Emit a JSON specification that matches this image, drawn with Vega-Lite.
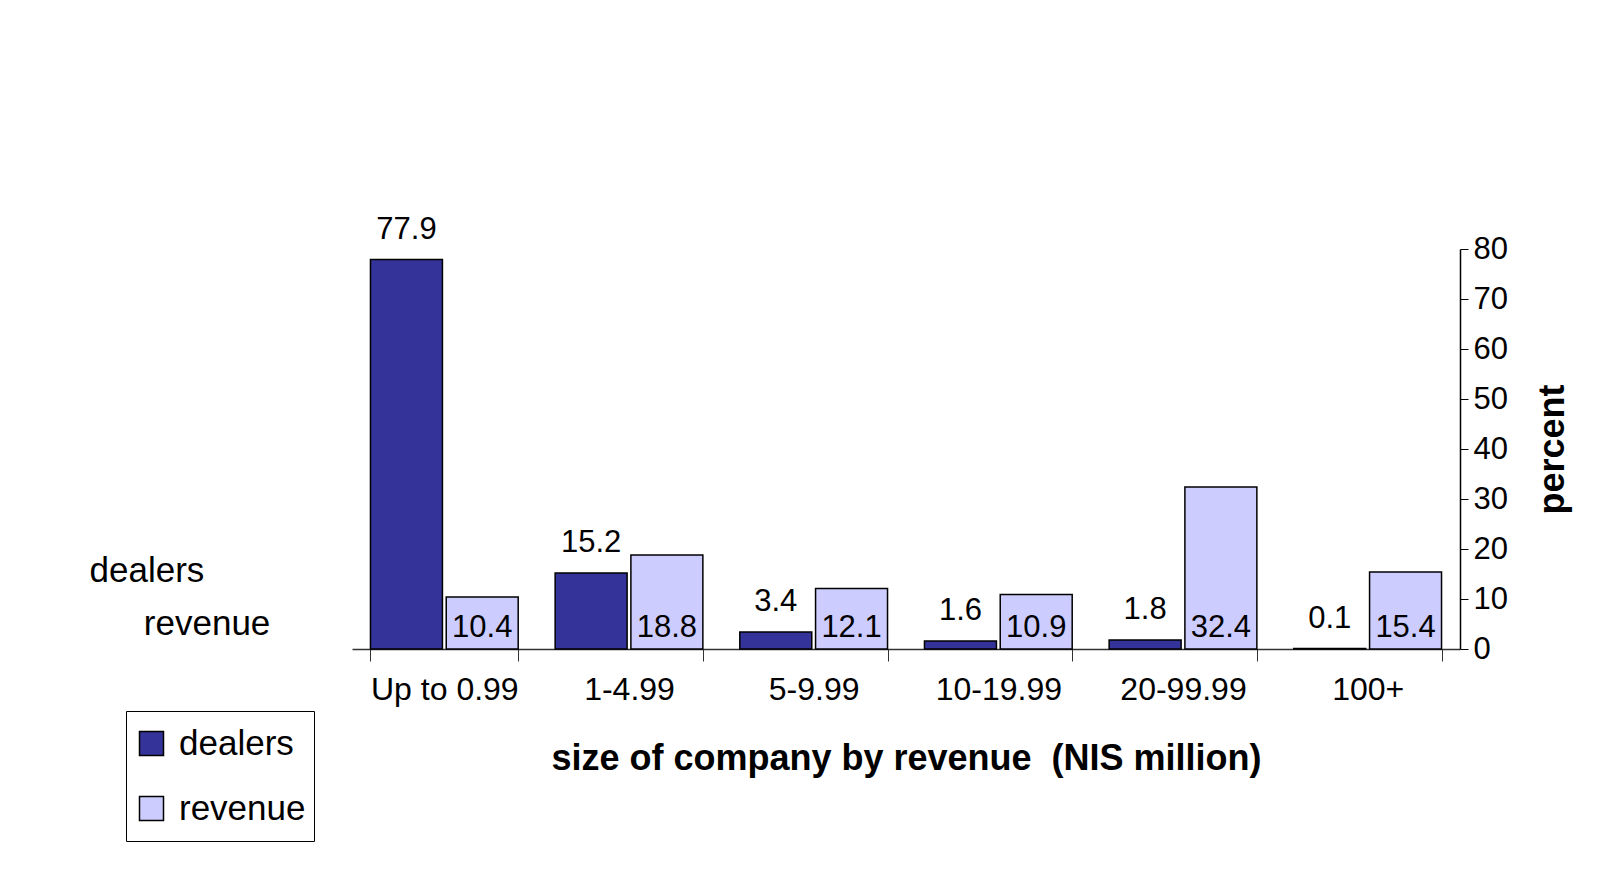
{
  "$schema": "https://vega.github.io/schema/vega-lite/v6.json",
  "width": 1108,
  "height": 400,
  "autosize": {"type": "none"},
  "padding": {"left": 352, "top": 249, "right": 139, "bottom": 232},
  "background": "white",
  "config": {
    "view": {"stroke": null},
    "font": "Liberation Sans",
    "text": {"font": "Liberation Sans", "fontSize": 31, "color": "black"}
  },
  "data": {
    "values": [
      {"category": "Up to 0.99", "series": "dealers", "value": 77.9},
      {"category": "Up to 0.99", "series": "revenue", "value": 10.4},
      {"category": "1-4.99", "series": "dealers", "value": 15.2},
      {"category": "1-4.99", "series": "revenue", "value": 18.8},
      {"category": "5-9.99", "series": "dealers", "value": 3.4},
      {"category": "5-9.99", "series": "revenue", "value": 12.1},
      {"category": "10-19.99", "series": "dealers", "value": 1.6},
      {"category": "10-19.99", "series": "revenue", "value": 10.9},
      {"category": "20-99.99", "series": "dealers", "value": 1.8},
      {"category": "20-99.99", "series": "revenue", "value": 32.4},
      {"category": "100+", "series": "dealers", "value": 0.1},
      {"category": "100+", "series": "revenue", "value": 15.4}
    ]
  },
  "layer": [
    {
      "mark": {"type": "bar", "stroke": "black", "strokeWidth": 1.5},
      "encoding": {
        "x": {
          "field": "category",
          "type": "nominal",
          "sort": ["Up to 0.99", "1-4.99", "5-9.99", "10-19.99", "20-99.99", "100+"],
          "scale": {"domain": ["Up to 0.99", "1-4.99", "5-9.99", "10-19.99", "20-99.99", "100+"], "paddingInner": 0.2, "paddingOuter": 0.1},
          "axis": {
            "orient": "bottom",
            "title": "size of company by revenue\u00a0\u00a0(NIS million)",
            "titleFontSize": 36,
            "titleFontWeight": "bold",
            "titleColor": "black",
            "titlePadding": 36,
            "labelAngle": 0,
            "labelFontSize": 32,
            "labelColor": "black",
            "labelPadding": 13,
            "tickBand": "extent",
            "tickSize": 12,
            "tickColor": "#333333",
            "domainColor": "#333333",
            "domainWidth": 1.5
          }
        },
        "xOffset": {
          "field": "series",
          "type": "nominal",
          "scale": {"domain": ["dealers", "revenue"], "paddingInner": 0.05}
        },
        "y": {
          "field": "value",
          "type": "quantitative",
          "scale": {"domain": [0, 80], "nice": false},
          "axis": {
            "orient": "right",
            "values": [0, 10, 20, 30, 40, 50, 60, 70, 80],
            "grid": false,
            "title": "percent",
            "titleAngle": 270,
            "titleFontSize": 36,
            "titleFontWeight": "bold",
            "titleColor": "black",
            "titlePadding": 64,
            "labelFontSize": 31,
            "labelColor": "black",
            "labelPadding": 5,
            "tickSize": 8,
            "tickColor": "black",
            "domainColor": "black",
            "domainWidth": 1.5
          }
        },
        "color": {
          "field": "series",
          "type": "nominal",
          "scale": {"domain": ["dealers", "revenue"], "range": ["#333399", "#CCCCFF"]},
          "legend": {
            "orient": "none",
            "legendX": -226,
            "legendY": 462,
            "title": null,
            "strokeColor": "black",
            "fillColor": "white",
            "padding": 8,
            "symbolType": "square",
            "symbolSize": 576,
            "symbolStrokeColor": "black",
            "symbolStrokeWidth": 1.5,
            "symbolOpacity": 1,
            "labelFontSize": 35,
            "labelColor": "black",
            "labelOffset": 10,
            "clipHeight": 49,
            "rowPadding": 16
          }
        }
      }
    },
    {
      "transform": [{"filter": "datum.series === 'dealers'"}],
      "mark": {"type": "text", "baseline": "bottom", "dy": -14},
      "encoding": {
        "x": {"field": "category", "type": "nominal", "sort": ["Up to 0.99", "1-4.99", "5-9.99", "10-19.99", "20-99.99", "100+"]},
        "xOffset": {"field": "series", "type": "nominal"},
        "y": {"field": "value", "type": "quantitative"},
        "text": {"field": "value", "type": "quantitative", "format": ".1f"}
      }
    },
    {
      "transform": [{"filter": "datum.series === 'revenue'"}],
      "mark": {"type": "text", "baseline": "bottom", "dy": -5},
      "encoding": {
        "x": {"field": "category", "type": "nominal", "sort": ["Up to 0.99", "1-4.99", "5-9.99", "10-19.99", "20-99.99", "100+"]},
        "xOffset": {"field": "series", "type": "nominal"},
        "y": {"datum": 0, "type": "quantitative"},
        "text": {"field": "value", "type": "quantitative", "format": ".1f"}
      }
    },
    {
      "data": {"values": [{"category": "Up to 0.99", "label": "dealers"}]},
      "mark": {"type": "text", "align": "right", "baseline": "middle", "dx": -240, "fontSize": 35},
      "encoding": {
        "x": {"field": "category", "type": "nominal", "sort": ["Up to 0.99", "1-4.99", "5-9.99", "10-19.99", "20-99.99", "100+"]},
        "y": {"datum": 15.6, "type": "quantitative"},
        "text": {"field": "label"}
      }
    },
    {
      "data": {"values": [{"category": "Up to 0.99", "label": "revenue"}]},
      "mark": {"type": "text", "align": "right", "baseline": "middle", "dx": -174, "fontSize": 35},
      "encoding": {
        "x": {"field": "category", "type": "nominal", "sort": ["Up to 0.99", "1-4.99", "5-9.99", "10-19.99", "20-99.99", "100+"]},
        "y": {"datum": 5, "type": "quantitative"},
        "text": {"field": "label"}
      }
    }
  ]
}
